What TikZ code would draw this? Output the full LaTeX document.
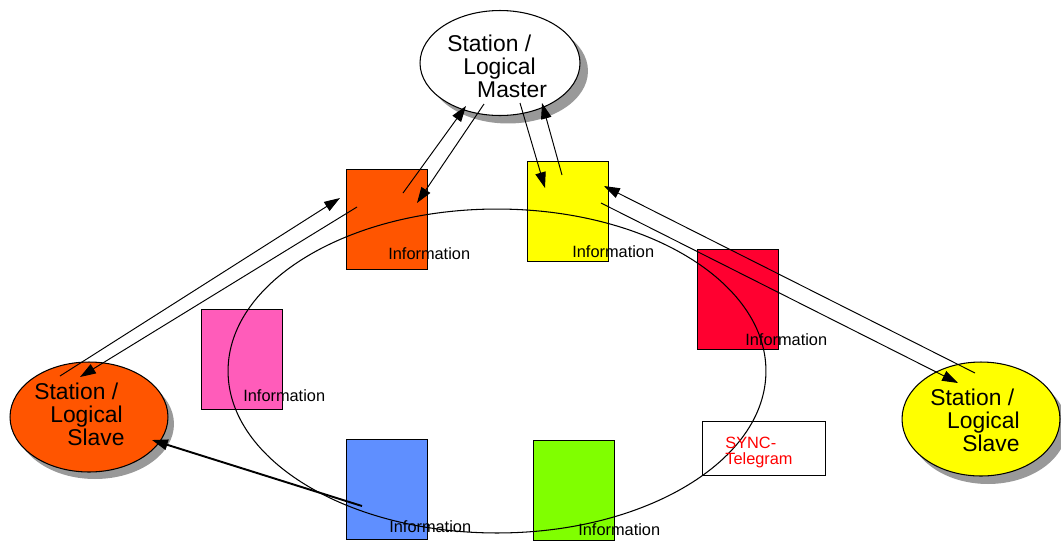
\documentclass[tikz,border=0pt]{standalone}
\usepackage{fontspec}
\setmainfont{Liberation Sans}
\usetikzlibrary{shapes.geometric,arrows.meta}
\definecolor{stnorange}{HTML}{FF5500}
\definecolor{stnyellow}{HTML}{FFFF00}
\definecolor{infored}{HTML}{FF0030}
\definecolor{infopink}{HTML}{FF5CBA}
\definecolor{infoblue}{HTML}{5F8FFF}
\definecolor{infogreen}{HTML}{80FF00}
\definecolor{shadowgray}{HTML}{999999}
\definecolor{synctext}{HTML}{FF0000}
\begin{document}
\begin{tikzpicture}[x=0.02cm,y=-0.02cm,
  station/.style={ellipse,draw,line width=0.6pt,inner sep=0pt},
  shadow/.style={ellipse,fill=shadowgray,inner sep=0pt},
  infobox/.style={draw,line width=0.5pt,minimum width=1.62cm,minimum height=2cm,inner sep=0pt},
  infotext/.style={anchor=base west,inner sep=0pt,font=\fontsize{9.3}{10}\selectfont},
  stationtext/.style={anchor=north west,inner sep=0pt,align=left,font=\fontsize{13}{13.1}\selectfont},
  link/.style={-{Triangle[length=9pt,width=6pt]},line width=0.55pt}]
\useasboundingbox (0,0) rectangle (1061,542);
% shadows
\node[shadow,minimum width=3.2cm,minimum height=2.1cm] (masterShadow) at (508,71) {};
\node[shadow,minimum width=3.16cm,minimum height=2.2cm] (slaveLShadow) at (95,424) {};
\node[shadow,minimum width=3.16cm,minimum height=2.28cm] (slaveRShadow) at (988,427) {};
% stations
\node[station,fill=white,minimum width=3.2cm,minimum height=2.1cm] (master) at (500,63) {};
\node[station,fill=stnorange,minimum width=3.16cm,minimum height=2.2cm] (slaveL) at (89,417) {};
\node[station,fill=stnyellow,minimum width=3.16cm,minimum height=2.28cm] (slaveR) at (981,419) {};
\node[stationtext] (masterText) at (447,35) {Station /\\\hspace*{9.1pt}Logical\\\hspace*{17pt}Master};
\node[stationtext] (slaveLText) at (34,383) {Station /\\\hspace*{9.1pt}Logical\\\hspace*{18.8pt}Slave};
\node[stationtext] (slaveRText) at (930,389) {Station /\\\hspace*{9.6pt}Logical\\\hspace*{18.2pt}Slave};
% information boxes
\node[infobox,fill=stnorange] (boxOrange) at (386.5,219.5) {};
\node[infobox,fill=stnyellow] (boxYellow) at (568,211) {};
\node[infobox,fill=infored] (boxRed) at (737.5,299.5) {};
\node[infobox,fill=infopink] (boxPink) at (241.5,359.5) {};
\node[infobox,fill=infoblue] (boxBlue) at (386.5,489) {};
\node[infobox,fill=infogreen] (boxGreen) at (573.5,490) {};
\node[draw,line width=0.5pt,fill=white,minimum width=2.46cm,minimum height=1.08cm,inner sep=0pt] (sync) at (763.5,448) {};
% ring
\draw[line width=0.6pt] (497,371) ellipse [x radius=5.38cm, y radius=3.24cm];
% labels
\node[infotext] (txtOrange) at (388,259) {Information};
\node[infotext] (txtYellow) at (572,257) {Information};
\node[infotext] (txtRed) at (745,345) {Information};
\node[infotext] (txtPink) at (243,401) {Information};
\node[infotext] (txtBlue) at (389,532) {Information};
\node[infotext] (txtGreen) at (578,535) {Information};
\node[infotext,anchor=north west,align=left,text=synctext,font=\fontsize{9.3}{8.8}\selectfont] (syncText) at (725,437) {SYNC-\\Telegram};
% arrow end points
\coordinate (oUp) at (403,193);
\coordinate (mIn) at (466,106);
\coordinate (mOut) at (484,104);
\coordinate (oIn) at (417,203);
\coordinate (mOut2) at (520,103);
\coordinate (yIn) at (545,188);
\coordinate (yUp) at (562,175);
\coordinate (mIn2) at (542,103);
\coordinate (lOut) at (60,376);
\coordinate (oIn2) at (340,198);
\coordinate (oOut) at (357,207);
\coordinate (lIn) at (80,377);
\coordinate (bOut) at (362,506);
\coordinate (lIn2) at (152,440);
\coordinate (rOut) at (975,373);
\coordinate (yIn2) at (604,186);
\coordinate (yOut) at (601,203);
\coordinate (rIn) at (958,383);
% arrows
\draw[link] (oUp) -- (mIn);
\draw[link] (mOut) -- (oIn);
\draw[link] (mOut2) -- (yIn);
\draw[link] (yUp) -- (mIn2);
\draw[link] (lOut) -- (oIn2);
\draw[link] (oOut) -- (lIn);
\draw[link,line width=1.1pt] (bOut) -- (lIn2);
\draw[link] (rOut) -- (yIn2);
\draw[link] (yOut) -- (rIn);
\end{tikzpicture}
\end{document}
